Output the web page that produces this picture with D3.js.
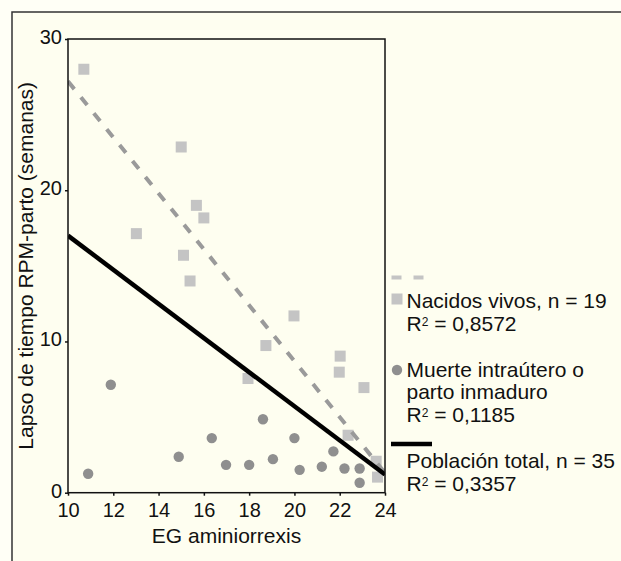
<!DOCTYPE html>
<html>
<head>
<meta charset="utf-8">
<script src="https://cdn.jsdelivr.net/npm/d3@7/dist/d3.min.js"></script>
<style>
  html, body { margin: 0; padding: 0; background: #fffff6; }
  svg { display: block; }
  text { font-family: "Liberation Sans", Arial, Helvetica, sans-serif; fill: #111; }
</style>
</head>
<body>
<svg id="chart" width="621" height="561"></svg>
<script>
// ---- Data ----
const xTicks = [10, 12, 14, 16, 18, 20, 22, 24];
const yTicks = [0, 10, 20, 30];

// Nacidos vivos (squares)
const vivosX = [10.70, 15.00, 15.67, 16.00, 13.02, 15.10, 15.39, 19.98, 18.74, 22.02, 21.98, 17.95, 23.07, 22.37, 23.61, 23.67];
const vivosY = [28.0, 22.86, 19.0, 18.17, 17.13, 15.7, 14.0, 11.69, 9.73, 9.03, 7.97, 7.55, 6.95, 3.8, 2.08, 1.03];

// Muerte intraútero o parto inmaduro (circles)
const muerteX = [10.89, 11.89, 14.89, 16.35, 16.98, 18.00, 18.61, 19.05, 20.00, 20.23, 21.21, 21.72, 22.21, 22.88, 22.88];
const muerteY = [1.25, 7.14, 2.38, 3.61, 1.84, 1.84, 4.86, 2.22, 3.61, 1.51, 1.72, 2.73, 1.60, 1.60, 0.66];

// Regression lines (endpoints)
const fitVivosX = [10, 24];
const fitVivosY = [27.2, 1.3];
const fitTotalX = [10, 24];
const fitTotalY = [17.0, 1.2];

const legendLines = {
  vivos: ["Nacidos vivos, n = 19", "0,8572"],
  muerte: ["Muerte intraútero o", "parto inmaduro", "0,1185"],
  total: ["Población total, n = 35", "0,3357"]
};

// ---- Layout ----
const svg = d3.select("#chart");
const W = 621, H = 561;
const L = 68, R = 385, T = 39, B = 492.7;

const colSquare = "#c4c4c4";
const colCircle = "#8f8f8f";
const colDash = "#9a9a9a";

// panel background + border
svg.append("rect").attr("x", 12).attr("y", 12).attr("width", W).attr("height", H)
  .attr("fill", "#fefef0");
svg.append("path").attr("d", `M12,${H} L12,12 L${W},12`)
  .attr("fill", "none").attr("stroke", "#333").attr("stroke-width", 1.5);

const x = d3.scaleLinear().domain([10, 24]).range([L, R]);
const y = d3.scaleLinear().domain([0, 30]).range([B, T]);

// axes
const xAxis = d3.axisBottom(x).tickValues(xTicks).tickSize(3).tickPadding(7).tickFormat(d3.format("d"));
const gx = svg.append("g").attr("transform", `translate(0,${B})`).call(xAxis);
gx.select(".domain").remove();
gx.selectAll(".tick line").attr("stroke", "#111").attr("stroke-width", 1.5);
gx.selectAll(".tick text").attr("font-size", 20).attr("fill", "#111");

const yAxis = d3.axisLeft(y).tickValues(yTicks).tickSize(3).tickPadding(3).tickFormat(d3.format("d"));
const gy = svg.append("g").attr("transform", `translate(${L},0)`).call(yAxis);
gy.select(".domain").remove();
gy.selectAll(".tick line").attr("stroke", "#111").attr("stroke-width", 1.5);
gy.selectAll(".tick text").attr("font-size", 20).attr("dy", "0.22em").attr("fill", "#111");

// axis titles
svg.append("text").attr("x", (L + R) / 2).attr("y", 543).attr("text-anchor", "middle")
  .attr("font-size", 21).text("EG aminiorrexis");
svg.append("text").attr("transform", `translate(33,${(T + B) / 2}) rotate(-90)`)
  .attr("text-anchor", "middle").attr("font-size", 21)
  .text("Lapso de tiempo RPM-parto (semanas)");

// clip
svg.append("clipPath").attr("id", "clip").append("rect")
  .attr("x", L).attr("y", T).attr("width", R - L).attr("height", B - T);

const plot = svg.append("g").attr("clip-path", "url(#clip)");

// points: circles
const sq = 11;
plot.selectAll("circle.m").data(muerteX.map((d, i) => [d, muerteY[i]])).join("circle")
  .attr("class", "m").attr("cx", d => x(d[0])).attr("cy", d => y(d[1])).attr("r", 5.2)
  .attr("fill", colCircle);

// squares
plot.selectAll("rect.v").data(vivosX.map((d, i) => [d, vivosY[i]])).join("rect")
  .attr("class", "v").attr("x", d => x(d[0]) - sq / 2).attr("y", d => y(d[1]) - sq / 2)
  .attr("width", sq).attr("height", sq).attr("fill", colSquare);

// regression lines
const line = d3.line().x(d => x(d[0])).y(d => y(d[1]));
plot.append("path").datum(fitVivosX.map((d, i) => [d, fitVivosY[i]]))
  .attr("d", line).attr("fill", "none").attr("stroke", colDash)
  .attr("stroke-width", 4).attr("stroke-dasharray", "10,10.5");
plot.append("path").datum(fitTotalX.map((d, i) => [d, fitTotalY[i]]))
  .attr("d", line).attr("fill", "none").attr("stroke", "#000")
  .attr("stroke-width", 4.5);

// frame
svg.append("rect").attr("x", L).attr("y", T).attr("width", R - L).attr("height", B - T)
  .attr("fill", "none").attr("stroke", "#111").attr("stroke-width", 1.5);

// ---- Legend ----
const lg = svg.append("g");
const tx = 406.5;
function r2(g, yy, val) {
  const t = g.append("text").attr("x", tx).attr("y", yy).attr("font-size", 21);
  t.append("tspan").text("R");
  t.append("tspan").attr("font-size", 12).attr("dy", -5).text("2");
  t.append("tspan").attr("dy", 5).text(" = " + val);
}
// dashed sample
lg.append("line").attr("x1", 391.5).attr("x2", 424).attr("y1", 277.5).attr("y2", 277.5)
  .attr("stroke", "#c4c4c4").attr("stroke-width", 4).attr("stroke-dasharray", "10,12");
lg.append("rect").attr("x", 391.5).attr("y", 293.5).attr("width", sq).attr("height", sq).attr("fill", colSquare);
lg.append("text").attr("x", tx).attr("y", 308).attr("font-size", 21).text(legendLines.vivos[0]);
r2(lg, 331, legendLines.vivos[1]);

lg.append("circle").attr("cx", 397).attr("cy", 370).attr("r", 5.2).attr("fill", colCircle);
lg.append("text").attr("x", tx).attr("y", 376.5).attr("font-size", 21).text(legendLines.muerte[0]);
lg.append("text").attr("x", tx).attr("y", 399.3).attr("font-size", 21).text(legendLines.muerte[1]);
r2(lg, 422.3, legendLines.muerte[2]);

lg.append("line").attr("x1", 391).attr("x2", 432).attr("y1", 444).attr("y2", 444)
  .attr("stroke", "#000").attr("stroke-width", 4.5);
lg.append("text").attr("x", tx).attr("y", 468.3).attr("font-size", 21).text(legendLines.total[0]);
r2(lg, 490.7, legendLines.total[1]);
</script>
</body>
</html>
